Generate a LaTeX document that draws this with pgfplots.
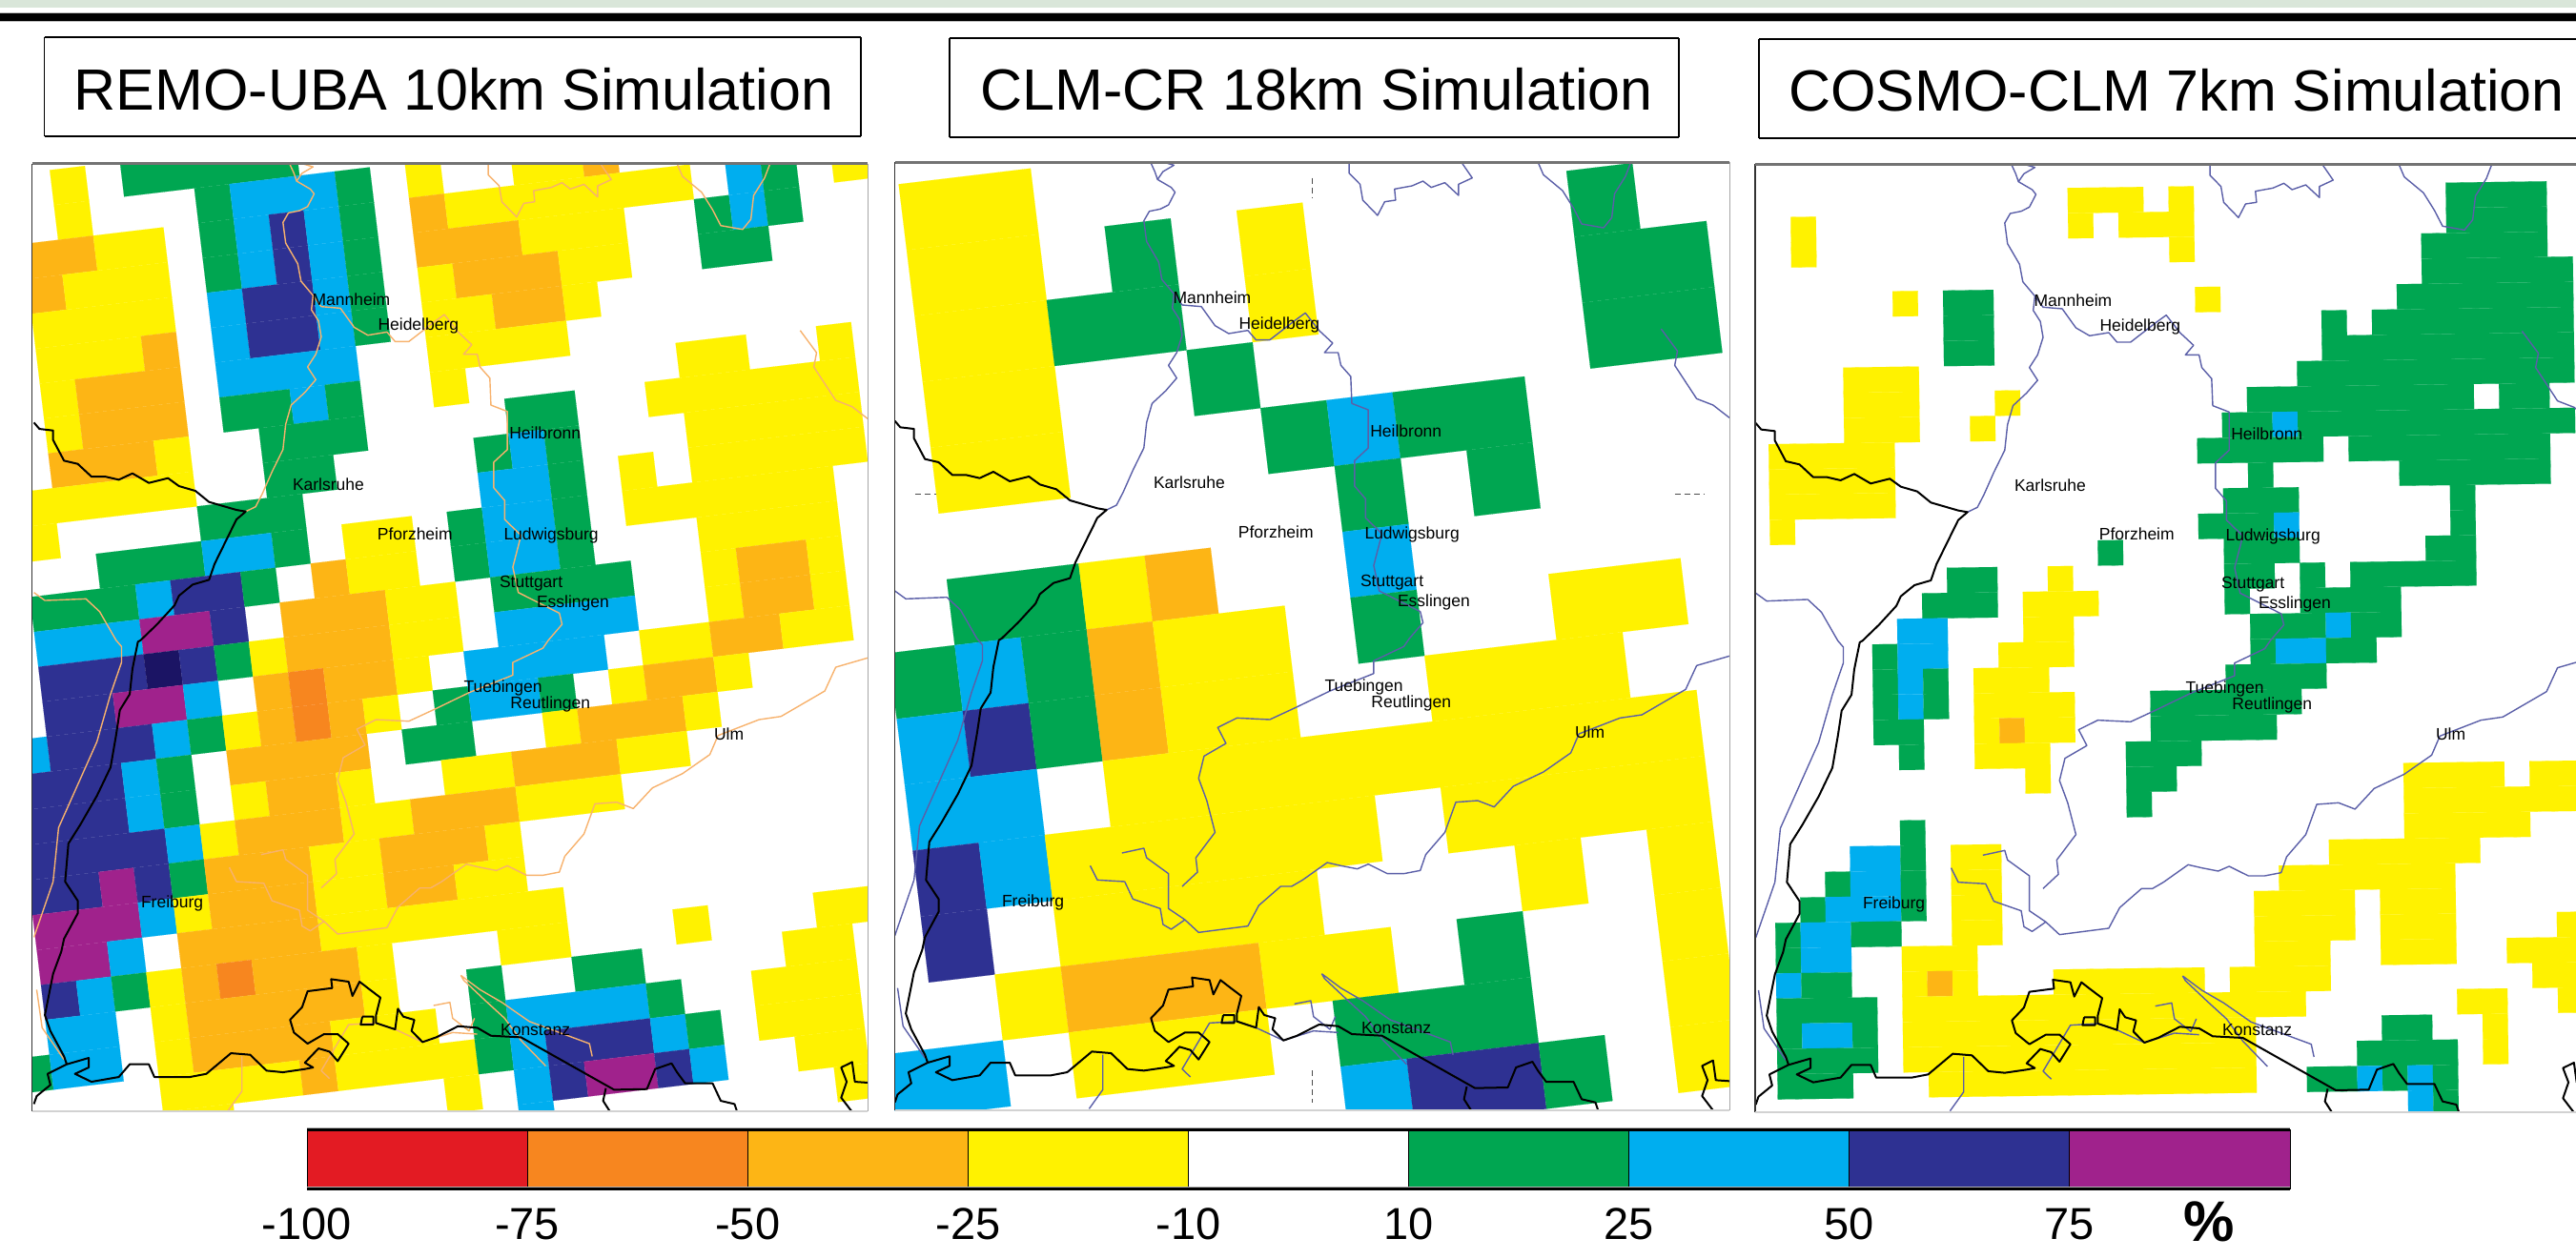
\documentclass[border=0pt]{standalone}
\usepackage{pgfplots}
\usepackage{pgfplotstable}
\usepackage{fontspec}
\setmainfont{Liberation Sans}
\pgfplotsset{compat=1.18}
\definecolor{rd}{HTML}{E31B23}
\definecolor{dor}{HTML}{F7861F}
\definecolor{orr}{HTML}{FDB515}
\definecolor{yl}{HTML}{FFF200}
\definecolor{gr}{HTML}{00A651}
\definecolor{bl}{HTML}{00AEEF}
\definecolor{db}{HTML}{2E3192}
\definecolor{pu}{HTML}{A0228C}
\definecolor{nv}{HTML}{1B1464}
\definecolor{rivA}{HTML}{F7B26D}
\definecolor{rivB}{HTML}{5B5FA8}
\definecolor{band}{HTML}{D9E6D9}
% digitised lines, in the frame of the middle panel
\pgfplotstableread[header=false,row sep=\\]{
482 30\\490 60\\495 85\\520 110\\527 125\\515 165\\500 178\\480 185\\470 215\\475 280\\497 345\\503 400\\525 445\\522 490\\535 525\\540 575\\530 630\\515 670\\530 710\\510 750\\485 790\\475 850\\470 930\\450 1000\\432 1070\\420 1110\\402 1125\\nan nan\\
505 30\\525 40\\505 60\\495 85\\nan nan\\
845 30\\845 65\\865 100\\870 150\\897 198\\910 155\\930 150\\928 115\\960 105\\980 90\\995 110\\1020 95\\1045 135\\1045 100\\1070 80\\1050 30\\nan nan\\
1190 30\\1200 70\\1235 120\\1255 175\\1270 225\\1310 237\\1325 205\\1330 130\\1350 75\\1360 30\\nan nan\\
525 445\\540 480\\575 485\\600 545\\625 570\\660 560\\675 590\\700 590\\715 570\\745 530\\765 505\\790 560\\815 600\\800 630\\825 630\\830 670\\848 705\\850 790\\880 810\\880 930\\855 970\\855 1050\\875 1090\\875 1150\\905 1200\\890 1300\\900 1380\\975 1445\\980 1480\\955 1530\\945 1555\\890 1600\\890 1640\\810 1695\\750 1745\\700 1785\\640 1780\\605 1810\\620 1860\\580 1900\\570 1970\\585 2040\\600 2140\\565 2220\\568 2265\\540 2310\\nan nan\\
1540 1585\\1480 1615\\1460 1690\\1380 1770\\1340 1780\\1265 1830\\1250 1890\\1200 1950\\1145 1995\\1110 2060\\1080 2040\\1040 2045\\1020 2140\\985 2210\\975 2260\\945 2270\\915 2270\\880 2240\\860 2255\\830 2245\\805 2235\\760 2290\\740 2310\\720 2310\\680 2370\\660 2435\\570 2455\\545 2415\\520 2445\\505 2430\\500 2380\\450 2350\\435 2295\\385 2290\\372 2245\\nan nan\\
545 2415\\515 2380\\515 2270\\475 2220\\470 2190\\430 2205\\nan nan\\
1415 555\\1445 625\\1440 670\\1480 775\\1510 795\\1540 835\\nan nan\\
15 1380\\35 1405\\110 1400\\135 1440\\165 1530\\175 1550\\175 1600\\155 1700\\130 1850\\60 2120\\50 2290\\15 2465\\nan nan\\
795 2585\\830 2630\\870 2670\\920 2730\\1030 2800\\1035 2840\\nan nan\\
795 2585\\800 2600\\840 2665\\875 2720\\905 2790\\950 2870\\nan nan\\
725 2795\\780 2765\\825 2770\\nan nan\\
745 2680\\775 2670\\780 2720\\810 2760\\820 2720\\nan nan\\
20 2630\\30 2750\\70 2850\\nan nan\\
395 2840\\395 2950\\370 3010\\nan nan\\
555 2910\\540 2885\\590 2740\\640 2735\\675 2755\\725 2795\\
}\rivers
\pgfplotstableread[header=false,row sep=\\]{
15 845\\25 865\\50 870\\50 900\\70 965\\95 975\\120 1015\\145 1015\\170 1025\\195 1005\\225 1035\\260 1020\\280 1045\\310 1060\\335 1095\\385 1120\\402 1125\\385 1150\\365 1220\\345 1290\\335 1340\\305 1355\\280 1390\\272 1420\\240 1480\\210 1530\\205 1535\\195 1620\\190 1700\\172 1750\\165 1830\\155 1930\\130 2020\\100 2110\\78 2170\\72 2290\\95 2350\\95 2390\\70 2470\\65 2510\\50 2580\\35 2710\\45 2760\\70 2840\\75 2865\\115 2845\\115 2875\\90 2895\\120 2920\\170 2905\\190 2865\\225 2865\\235 2905\\300 2905\\330 2895\\375 2830\\410 2835\\440 2885\\470 2890\\510 2880\\525 2875\\510 2860\\535 2815\\555 2825\\570 2855\\590 2800\\570 2770\\545 2770\\515 2800\\490 2765\\483 2725\\505 2685\\515 2635\\560 2625\\558 2597\\590 2605\\597 2650\\610 2605\\625 2625\\648 2655\\640 2710\\640 2735\\675 2755\\680 2690\\690 2715\\710 2725\\705 2760\\725 2795\\750 2780\\790 2745\\825 2750\\850 2775\\905 2780\\1075 2945\\1135 2943\\1150 2880\\1180 2862\\1190 2890\\1205 2925\\1225 2925\\1255 2925\\1270 2980\\1295 2990\\1300 3015\\nan nan\\
1060 2940\\1055 2980\\1068 3015\\nan nan\\
615 2715\\635 2715\\635 2740\\612 2740\\615 2715\\nan nan\\
1510 3015\\1490 2970\\1500 2920\\1490 2875\\1510 2858\\1515 2920\\1540 2923\\nan nan\\
75 2865\\40 2895\\45 2930\\20 2965\\15 2990\\
}\borders
\pgfplotstableread[header=false,row sep=\\]{
52 1075\\90 1075\\nan nan\\
1440 1075\\1495 1075\\nan nan\\
777 80\\777 145\\nan nan\\
777 2890\\777 2990\\
}\dashes
\newcommand\setgrid[6]{\def\gx{#1}\def\gy{#2}\def\ux{#3}\def\uy{#4}\def\vx{#5}\def\vy{#6}}
\newcommand\Rw[1]{\def\rw{#1}}
% one run of equal cells in the current row: colour, first column, last column
\newcommand\K[3]{%
 \pgfmathsetmacro\ca{#2}\pgfmathsetmacro\cb{#3+1}\pgfmathsetmacro\rb{\rw+1}%
 \pgfmathsetmacro\xa{\gx+\ca*\ux+\rw*\vx}\pgfmathsetmacro\ya{\gy+\ca*\uy+\rw*\vy}%
 \pgfmathsetmacro\xb{\gx+\cb*\ux+\rw*\vx}\pgfmathsetmacro\yb{\gy+\cb*\uy+\rw*\vy}%
 \pgfmathsetmacro\xc{\gx+\cb*\ux+\rb*\vx}\pgfmathsetmacro\yc{\gy+\cb*\uy+\rb*\vy}%
 \pgfmathsetmacro\xd{\gx+\ca*\ux+\rb*\vx}\pgfmathsetmacro\yd{\gy+\ca*\uy+\rb*\vy}%
 \edef\temp{\noexpand\addplot[fill=#1,draw=#1,line width=0.05pt,forget plot] coordinates {(\xa,\ya)(\xb,\yb)(\xc,\yc)(\xd,\yd)(\xa,\ya)};}\temp}
\newcommand\city[3]{\node[anchor=base west,inner sep=0pt,font=\fontsize{8.75pt}{10pt}\selectfont] at (axis cs:#1,#2) {#3};}
\newcommand\geo[1]{%
 \addplot[#1,line width=0.7pt,line join=round,unbounded coords=jump,forget plot] table[x expr=\thisrowno{0}/1.742+930,y expr=\thisrowno{1}/3+160] {\rivers};
 \addplot[black,line width=1pt,line join=round,unbounded coords=jump,forget plot] table[x expr=\thisrowno{0}/1.742+930,y expr=\thisrowno{1}/3+160] {\borders};
 \city{1230.2}{318.7}{Mannheim}\city{1299.1}{345}{Heidelberg}\city{1209.6}{512.7}{Karlsruhe}
 \city{1436.9}{458.7}{Heilbronn}\city{1298.5}{564.3}{Pforzheim}\city{1431.1}{565}{Ludwigsburg}
 \city{1426.6}{615}{Stuttgart}\city{1465.6}{636}{Esslingen}\city{1389.2}{725}{Tuebingen}
 \city{1438}{742}{Reutlingen}\city{1651.6}{774.3}{Ulm}\city{1050.6}{951}{Freiburg}\city{1427.7}{1084.3}{Konstanz}}
\pgfplotsset{panel/.style={scale only axis,anchor=north west,y dir=reverse,ticks=none,
  axis line style={draw=none},clip=true,
  after end axis/.code={
   \draw[black!80,line width=0.6pt] (rel axis cs:0,0)--(rel axis cs:0,1);
   \draw[gray!70,line width=0.5pt] (rel axis cs:1,0)--(rel axis cs:1,1);
   \draw[gray!90!black,line width=1.5pt] (rel axis cs:0,1)--(rel axis cs:1,1);
   \draw[gray!35,line width=1pt] (rel axis cs:0,0)--(rel axis cs:1,0);}}}
\begin{document}
\begin{tikzpicture}
\useasboundingbox (0,0) rectangle (1351pt,-660.5pt);
% top band
\fill[band] (0,0) rectangle (1351pt,-4pt);
\fill[gray!50] (0,-6.6pt) rectangle (1351pt,-11.6pt);
\fill[black] (0,-7pt) rectangle (1351pt,-11.2pt);
% titles
\newcommand\titlebox[4]{%
 \draw[black,line width=0.7pt] (#1*0.5pt,-#2*0.5pt)--(#1*0.5pt,-#4*0.5pt);
 \draw[black,line width=0.7pt] (#3*0.5pt,-#2*0.5pt)--(#3*0.5pt,-#4*0.5pt);
 \draw[black,line width=1.4pt] (#1*0.5pt,-#2*0.5pt)--(#3*0.5pt,-#2*0.5pt);
 \draw[black,line width=1.4pt] (#1*0.5pt,-#4*0.5pt)--(#3*0.5pt,-#4*0.5pt);}
\titlebox{46.5}{39}{903}{143}
\titlebox{996}{40}{1761}{144}
\titlebox{1845}{41}{2720}{145}
\node[anchor=center,inner sep=0pt,font=\fontsize{30.5pt}{34pt}\selectfont] at (238pt,-47pt) {REMO-UBA 10km Simulation};
\node[anchor=center,inner sep=0pt,font=\fontsize{30.5pt}{34pt}\selectfont] at (690.5pt,-47pt) {CLM-CR 18km Simulation};
\node[anchor=center,inner sep=0pt,font=\fontsize{30.5pt}{34pt}\selectfont] at (1141.5pt,-47.5pt) {COSMO-CLM 7km Simulation};
% ---------- panel 1
\begin{axis}[panel,at={(33.8*0.5pt,-171.7*0.5pt)},width=876.2*0.5pt,height=994.3*0.5pt,
  xmin=936.8,xmax=1813,ymin=170,ymax=1164.3]
\setgrid{1184.8}{223.6}{36.8}{-4.4}{4.4}{36.6}
\Rw{-2}\K{yl}{-6}{-6}\K{gr}{-4}{0}
\Rw{-1}\K{yl}{-6}{-6}\K{gr}{-2}{-2}\K{bl}{-1}{1}\K{gr}{2}{2}\K{yl}{4}{4}\K{yl}{7}{8}\K{orr}{9}{9}
\Rw{0}\K{orr}{-7}{-6}\K{yl}{-5}{-4}\K{gr}{-2}{-2}\K{bl}{-1}{-1}\K{db}{0}{0}\K{bl}{1}{1}\K{gr}{2}{2}\K{orr}{4}{4}\K{yl}{5}{11}\K{bl}{13}{13}\K{gr}{14}{14}\K{yl}{16}{16}
\Rw{1}\K{orr}{-7}{-7}\K{yl}{-6}{-4}\K{gr}{-2}{-2}\K{bl}{-1}{-1}\K{db}{0}{0}\K{bl}{1}{1}\K{gr}{2}{2}\K{orr}{4}{6}\K{yl}{7}{9}\K{gr}{12}{12}\K{bl}{13}{13}\K{gr}{14}{14}
\Rw{2}\K{yl}{-7}{-4}\K{bl}{-2}{-2}\K{db}{-1}{0}\K{bl}{1}{1}\K{gr}{2}{2}\K{yl}{4}{4}\K{orr}{5}{7}\K{yl}{8}{9}\K{gr}{12}{13}
\Rw{3}\K{yl}{-7}{-5}\K{orr}{-4}{-4}\K{bl}{-2}{-2}\K{db}{-1}{0}\K{bl}{1}{1}\K{gr}{2}{2}\K{yl}{4}{5}\K{orr}{6}{7}\K{yl}{8}{8}
\Rw{4}\K{yl}{-7}{-7}\K{orr}{-6}{-4}\K{bl}{-2}{1}\K{yl}{4}{7}
\Rw{5}\K{yl}{-7}{-7}\K{orr}{-6}{-4}\K{gr}{-2}{-1}\K{bl}{0}{0}\K{gr}{1}{1}\K{yl}{4}{4}\K{yl}{11}{12}\K{yl}{15}{15}
\Rw{6}\K{orr}{-7}{-5}\K{yl}{-4}{-4}\K{gr}{-1}{1}\K{gr}{6}{7}\K{yl}{10}{15}
\Rw{7}\K{yl}{-8}{-4}\K{gr}{-1}{0}\K{gr}{5}{5}\K{bl}{6}{6}\K{gr}{7}{7}\K{yl}{11}{15}
\Rw{8}\K{yl}{-8}{-8}\K{gr}{-3}{-1}\K{bl}{5}{6}\K{gr}{7}{7}\K{yl}{9}{9}\K{yl}{11}{15}
\Rw{9}\K{gr}{-6}{-4}\K{bl}{-3}{-2}\K{gr}{-1}{-1}\K{yl}{1}{2}\K{gr}{4}{4}\K{bl}{5}{6}\K{gr}{7}{7}\K{yl}{9}{14}
\Rw{10}\K{gr}{-8}{-6}\K{bl}{-5}{-5}\K{db}{-4}{-3}\K{gr}{-2}{-2}\K{orr}{0}{0}\K{yl}{1}{2}\K{gr}{4}{4}\K{bl}{5}{6}\K{gr}{7}{7}\K{yl}{11}{14}
\Rw{11}\K{bl}{-8}{-6}\K{pu}{-5}{-4}\K{db}{-3}{-3}\K{orr}{-1}{1}\K{yl}{2}{3}\K{gr}{5}{8}\K{yl}{11}{11}\K{orr}{12}{13}\K{yl}{14}{14}
\Rw{12}\K{db}{-8}{-6}\K{nv}{-5}{-5}\K{db}{-4}{-4}\K{gr}{-3}{-3}\K{yl}{-2}{-2}\K{orr}{-1}{1}\K{yl}{2}{3}\K{bl}{5}{8}\K{yl}{11}{11}\K{orr}{12}{13}\K{yl}{14}{14}
\Rw{13}\K{db}{-8}{-7}\K{pu}{-6}{-5}\K{bl}{-4}{-4}\K{orr}{-2}{-2}\K{dor}{-1}{-1}\K{orr}{0}{1}\K{yl}{2}{2}\K{bl}{4}{7}\K{yl}{9}{10}\K{orr}{11}{12}\K{yl}{13}{14}
\Rw{14}\K{bl}{-9}{-9}\K{db}{-8}{-6}\K{bl}{-5}{-5}\K{gr}{-4}{-4}\K{yl}{-3}{-3}\K{orr}{-2}{-2}\K{dor}{-1}{-1}\K{orr}{0}{0}\K{yl}{1}{1}\K{gr}{3}{3}\K{bl}{4}{5}\K{gr}{6}{6}\K{yl}{8}{8}\K{orr}{9}{10}\K{yl}{11}{11}
\Rw{15}\K{db}{-9}{-7}\K{bl}{-6}{-6}\K{gr}{-5}{-5}\K{orr}{-3}{0}\K{gr}{2}{3}\K{yl}{6}{6}\K{orr}{7}{9}\K{yl}{10}{10}
\Rw{16}\K{db}{-9}{-7}\K{bl}{-6}{-6}\K{gr}{-5}{-5}\K{yl}{-3}{-3}\K{orr}{-2}{-1}\K{yl}{0}{0}\K{yl}{3}{4}\K{orr}{5}{7}\K{yl}{8}{9}
\Rw{17}\K{db}{-9}{-6}\K{bl}{-5}{-5}\K{yl}{-4}{-4}\K{orr}{-3}{-1}\K{yl}{0}{1}\K{orr}{2}{4}\K{yl}{5}{7}
\Rw{18}\K{db}{-9}{-8}\K{pu}{-7}{-7}\K{db}{-6}{-6}\K{gr}{-5}{-5}\K{orr}{-4}{-2}\K{yl}{-1}{0}\K{orr}{1}{3}\K{yl}{4}{4}
\Rw{19}\K{pu}{-9}{-7}\K{bl}{-6}{-6}\K{yl}{-5}{-5}\K{orr}{-4}{-2}\K{yl}{-1}{0}\K{orr}{1}{2}\K{yl}{3}{4}
\Rw{20}\K{pu}{-9}{-8}\K{bl}{-7}{-7}\K{orr}{-5}{-2}\K{yl}{-1}{5}
\Rw{21}\K{db}{-9}{-9}\K{bl}{-8}{-8}\K{gr}{-7}{-7}\K{yl}{-6}{-6}\K{orr}{-5}{-5}\K{dor}{-4}{-4}\K{orr}{-3}{-1}\K{yl}{0}{0}\K{yl}{4}{5}\K{yl}{9}{9}\K{yl}{13}{14}
\Rw{22}\K{bl}{-9}{-8}\K{yl}{-6}{-6}\K{orr}{-5}{-1}\K{yl}{0}{0}\K{gr}{3}{3}\K{gr}{6}{7}\K{yl}{12}{13}
\Rw{23}\K{gr}{-10}{-10}\K{bl}{-9}{-8}\K{yl}{-6}{-6}\K{orr}{-5}{-2}\K{yl}{-1}{1}\K{gr}{3}{3}\K{bl}{4}{7}\K{gr}{8}{8}\K{yl}{11}{13}
\Rw{24}\K{yl}{-6}{-3}\K{orr}{-2}{-2}\K{yl}{-1}{2}\K{gr}{3}{3}\K{bl}{4}{4}\K{db}{5}{7}\K{bl}{8}{8}\K{gr}{9}{9}\K{yl}{11}{13}
\Rw{25}\K{yl}{-6}{-5}\K{yl}{2}{2}\K{bl}{4}{4}\K{db}{5}{5}\K{pu}{6}{7}\K{db}{8}{8}\K{bl}{9}{9}\K{yl}{12}{13}
\Rw{26}\K{bl}{4}{4}\K{yl}{13}{13}
\geo{rivA}
\end{axis}
% ---------- panel 2
\begin{axis}[panel,at={(938.6*0.5pt,-170*0.5pt)},width=875.4*0.5pt,height=995*0.5pt,
  xmin=938.6,xmax=1814,ymin=170,ymax=1165]
\setgrid{942.6}{193.3}{69.2}{-8.3}{8.4}{69.1}
\Rw{0}\K{yl}{0}{1}
\Rw{1}\K{yl}{0}{1}\K{gr}{3}{3}\K{yl}{5}{5}\K{gr}{10}{10}
\Rw{2}\K{yl}{0}{1}\K{gr}{2}{3}\K{yl}{5}{5}\K{gr}{10}{11}
\Rw{3}\K{yl}{0}{1}\K{gr}{4}{4}\K{gr}{10}{11}
\Rw{4}\K{yl}{0}{1}\K{gr}{5}{5}\K{bl}{6}{6}\K{gr}{7}{8}
\Rw{5}\K{gr}{6}{6}\K{gr}{8}{8}
\Rw{6}\K{gr}{0}{1}\K{yl}{2}{2}\K{orr}{3}{3}\K{bl}{6}{6}
\Rw{7}\K{gr}{-1}{-1}\K{bl}{0}{0}\K{gr}{1}{1}\K{orr}{2}{2}\K{yl}{3}{4}\K{gr}{6}{6}\K{yl}{9}{10}
\Rw{8}\K{bl}{-1}{-1}\K{db}{0}{0}\K{gr}{1}{1}\K{orr}{2}{2}\K{yl}{3}{4}\K{yl}{7}{9}
\Rw{9}\K{bl}{-1}{0}\K{yl}{2}{10}
\Rw{10}\K{db}{-1}{-1}\K{bl}{0}{0}\K{yl}{1}{5}\K{yl}{7}{10}
\Rw{11}\K{db}{-1}{-1}\K{yl}{1}{4}\K{yl}{8}{8}\K{yl}{10}{10}
\Rw{12}\K{yl}{0}{0}\K{orr}{1}{3}\K{yl}{4}{5}\K{gr}{7}{7}\K{yl}{10}{10}
\Rw{13}\K{bl}{-2}{-1}\K{yl}{1}{3}\K{gr}{5}{7}\K{yl}{10}{10}
\Rw{14}\K{bl}{5}{5}\K{db}{6}{7}\K{gr}{8}{8}\K{yl}{10}{10}
\addplot[black!70,line width=0.4pt,densely dashed,unbounded coords=jump,forget plot] table[x expr=\thisrowno{0}/1.742+930,y expr=\thisrowno{1}/3+160] {\dashes};
\geo{rivB}
\end{axis}
% ---------- panel 3
\begin{axis}[panel,at={(1841*0.5pt,-172*0.5pt)},width=861*0.5pt,height=995*0.5pt,
  xmin=938,xmax=1799,ymin=169.7,ymax=1164.7]
\setgrid{1662.3}{189.4}{26.44}{-0.37}{0.37}{26.44}
\Rw{0}\K{yl}{-15}{-13}\K{yl}{-11}{-11}\K{gr}{0}{3}
\Rw{1}\K{yl}{-26}{-26}\K{yl}{-15}{-15}\K{yl}{-13}{-11}\K{gr}{0}{3}
\Rw{2}\K{yl}{-26}{-26}\K{yl}{-11}{-11}\K{gr}{-1}{3}
\Rw{3}\K{gr}{-1}{4}
\Rw{4}\K{yl}{-22}{-22}\K{gr}{-20}{-19}\K{yl}{-10}{-10}\K{gr}{-2}{4}
\Rw{5}\K{gr}{-20}{-19}\K{gr}{-5}{-5}\K{gr}{-3}{4}
\Rw{6}\K{gr}{-20}{-19}\K{gr}{-5}{4}
\Rw{7}\K{yl}{-24}{-22}\K{gr}{-6}{4}
\Rw{8}\K{yl}{-24}{-22}\K{yl}{-18}{-18}\K{gr}{-8}{0}\K{gr}{2}{3}
\Rw{9}\K{yl}{-24}{-22}\K{yl}{-19}{-19}\K{gr}{-9}{-8}\K{bl}{-7}{-7}\K{gr}{-6}{4}
\Rw{10}\K{yl}{-27}{-23}\K{gr}{-10}{-6}\K{gr}{-4}{3}
\Rw{11}\K{yl}{-27}{-23}\K{gr}{-8}{-8}\K{gr}{-2}{3}
\Rw{12}\K{yl}{-27}{-23}\K{gr}{-9}{-7}\K{gr}{0}{0}
\Rw{13}\K{yl}{-27}{-27}\K{gr}{-10}{-8}\K{bl}{-7}{-7}\K{gr}{0}{0}
\Rw{14}\K{gr}{-14}{-14}\K{gr}{-9}{-7}\K{gr}{-1}{0}
\Rw{15}\K{gr}{-20}{-19}\K{yl}{-16}{-16}\K{gr}{-9}{-8}\K{gr}{-6}{-6}\K{gr}{-4}{0}
\Rw{16}\K{gr}{-21}{-19}\K{yl}{-17}{-15}\K{gr}{-9}{-9}\K{gr}{-6}{-3}
\Rw{17}\K{bl}{-22}{-21}\K{yl}{-17}{-16}\K{gr}{-8}{-6}\K{bl}{-5}{-5}\K{gr}{-4}{-3}
\Rw{18}\K{gr}{-23}{-23}\K{bl}{-22}{-21}\K{yl}{-18}{-16}\K{gr}{-8}{-8}\K{bl}{-7}{-6}\K{gr}{-5}{-4}
\Rw{19}\K{gr}{-23}{-23}\K{bl}{-22}{-22}\K{gr}{-21}{-21}\K{yl}{-19}{-17}\K{gr}{-9}{-6}
\Rw{20}\K{gr}{-23}{-23}\K{bl}{-22}{-22}\K{gr}{-21}{-21}\K{yl}{-19}{-16}\K{gr}{-12}{-7}
\Rw{21}\K{gr}{-23}{-22}\K{yl}{-19}{-19}\K{orr}{-18}{-18}\K{yl}{-17}{-16}\K{gr}{-12}{-8}
\Rw{22}\K{gr}{-22}{-22}\K{yl}{-19}{-17}\K{gr}{-13}{-11}
\Rw{23}\K{yl}{-17}{-17}\K{gr}{-13}{-12}\K{yl}{-2}{1}\K{yl}{3}{4}
\Rw{24}\K{gr}{-13}{-13}\K{yl}{-2}{4}
\Rw{25}\K{gr}{-22}{-22}\K{yl}{-2}{2}
\Rw{26}\K{bl}{-24}{-23}\K{gr}{-22}{-22}\K{yl}{-20}{-19}\K{yl}{-5}{0}
\Rw{27}\K{gr}{-25}{-25}\K{bl}{-24}{-23}\K{gr}{-22}{-22}\K{yl}{-20}{-19}\K{yl}{-7}{-1}
\Rw{28}\K{gr}{-26}{-26}\K{bl}{-25}{-23}\K{gr}{-22}{-22}\K{yl}{-20}{-19}\K{yl}{-8}{-5}\K{yl}{-3}{-1}
\Rw{29}\K{gr}{-27}{-27}\K{bl}{-26}{-25}\K{gr}{-24}{-23}\K{yl}{-20}{-19}\K{yl}{-8}{-5}\K{yl}{-3}{-1}\K{yl}{4}{4}
\Rw{30}\K{gr}{-27}{-27}\K{bl}{-26}{-25}\K{yl}{-22}{-20}\K{yl}{-8}{-6}\K{yl}{-3}{-1}\K{yl}{2}{4}
\Rw{31}\K{bl}{-27}{-27}\K{gr}{-26}{-25}\K{yl}{-22}{-22}\K{orr}{-21}{-21}\K{yl}{-20}{-20}\K{yl}{-16}{-11}\K{yl}{-9}{-6}\K{yl}{3}{4}
\Rw{32}\K{gr}{-27}{-24}\K{yl}{-22}{-7}\K{yl}{0}{1}\K{yl}{4}{4}
\Rw{33}\K{gr}{-27}{-27}\K{bl}{-26}{-25}\K{gr}{-24}{-24}\K{yl}{-22}{-9}\K{gr}{-3}{-2}\K{yl}{1}{1}
\Rw{34}\K{gr}{-27}{-24}\K{yl}{-22}{-9}\K{gr}{-4}{-1}\K{yl}{1}{1}
\Rw{35}\K{gr}{-27}{-25}\K{yl}{-21}{-9}\K{gr}{-6}{-5}\K{bl}{-4}{-4}\K{gr}{-3}{-3}\K{bl}{-2}{-2}\K{gr}{-1}{-1}
\Rw{36}\K{bl}{-2}{-2}\K{gr}{-1}{-1}
\geo{rivB}
\end{axis}
% ---------- colour bar
\begin{axis}[at={(322*0.5pt,-1247*0.5pt)},anchor=south west,scale only axis,width=2080*0.5pt,height=62*0.5pt,
  xmin=0,xmax=9,ymin=0,ymax=1,ytick=\empty,xtick={0,1,2,3,4,5,6,7,8},
  xticklabels={-100,-75,-50,-25,-10,10,25,50,75},major tick length=0pt,
  xticklabel style={font=\fontsize{23.5pt}{26pt}\selectfont,yshift=-7pt},
  axis line style={draw=black,line width=0.5pt},clip=false,
  after end axis/.code={
   \draw[gray!60,line width=2.4pt] (rel axis cs:0,1)--(rel axis cs:1,1);
   \draw[gray!60,line width=2.4pt] (rel axis cs:0,0)--(rel axis cs:1,0);
   \draw[black,line width=1.5pt] (rel axis cs:0,1)--(rel axis cs:1,1);
   \draw[black,line width=1.5pt] (rel axis cs:0,0)--(rel axis cs:1,0);}]
\addplot[fill=rd,draw=black,line width=0.5pt] coordinates {(0,0)(1,0)(1,1)(0,1)(0,0)};
\addplot[fill=dor,draw=black,line width=0.5pt] coordinates {(1,0)(2,0)(2,1)(1,1)(1,0)};
\addplot[fill=orr,draw=black,line width=0.5pt] coordinates {(2,0)(3,0)(3,1)(2,1)(2,0)};
\addplot[fill=yl,draw=black,line width=0.5pt] coordinates {(3,0)(4,0)(4,1)(3,1)(3,0)};
\addplot[fill=white,draw=black,line width=0.5pt] coordinates {(4,0)(5,0)(5,1)(4,1)(4,0)};
\addplot[fill=gr,draw=black,line width=0.5pt] coordinates {(5,0)(6,0)(6,1)(5,1)(5,0)};
\addplot[fill=bl,draw=black,line width=0.5pt] coordinates {(6,0)(7,0)(7,1)(6,1)(6,0)};
\addplot[fill=db,draw=black,line width=0.5pt] coordinates {(7,0)(8,0)(8,1)(7,1)(7,0)};
\addplot[fill=pu,draw=black,line width=0.5pt] coordinates {(8,0)(9,0)(9,1)(8,1)(8,0)};
\end{axis}
\node[anchor=center,inner sep=0pt,font=\fontsize{30pt}{34pt}\selectfont\bfseries] at (1158.5pt,-641pt) {\%};
\end{tikzpicture}
\end{document}
